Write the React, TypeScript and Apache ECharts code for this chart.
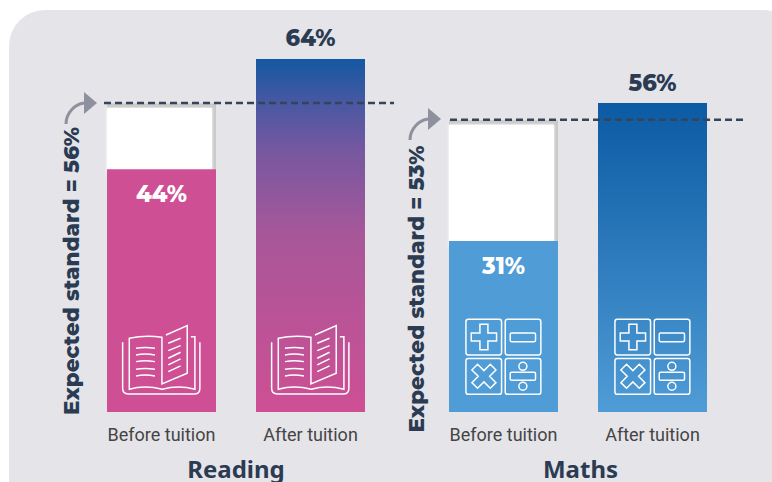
import React, { useEffect, useRef } from "react";
import * as echarts from "echarts";

const categories = ["Before tuition", "After tuition"];
const readingValues = [44, 64];
const mathsValues = [31, 56];
const readingExpected = 56;
const mathsExpected = 53;
const subjects = ["Reading", "Maths"];
const axisMax = 70;

const DARK = "#2b3b52";
const PINK = "#ce4f94";
const BLUE = "#4f9cd6";
const DEEP = "#0b5aa3";
const GREY = "#8f909e";
const BAR_W = 109;
const HEAD = "Montserrat, Inter, 'Noto Sans', sans-serif";

const rr = (x: number, y: number, w: number, h: number, r: number) =>
  `M${x + r},${y}H${x + w - r}A${r},${r} 0 0 1 ${x + w},${y + r}V${y + h - r}A${r},${r} 0 0 1 ${x + w - r},${y + h}H${x + r}A${r},${r} 0 0 1 ${x},${y + h - r}V${y + r}A${r},${r} 0 0 1 ${x + r},${y}Z`;
const crossPath = (cx: number, cy: number, a: number, l: number, deg: number) => {
  const pts = [[-a, -l], [a, -l], [a, -a], [l, -a], [l, a], [a, a], [a, l], [-a, l], [-a, a], [-l, a], [-l, -a], [-a, -a]];
  const t = (deg * Math.PI) / 180;
  return pts
    .map(([x, y], i) => `${i ? "L" : "M"}${(cx + x * Math.cos(t) - y * Math.sin(t)).toFixed(1)},${(cy + x * Math.sin(t) + y * Math.cos(t)).toFixed(1)}`)
    .join("") + "Z";
};
const circlePath = (cx: number, cy: number, r: number) =>
  `M${cx - r},${cy}A${r},${r} 0 1 1 ${cx + r},${cy}A${r},${r} 0 1 1 ${cx - r},${cy}Z`;

const bookPath = [
  "M98,97V235Q98,252 115,252H315Q330,252 330,235V97",
  "M303,80H315V238Q265,225 217,238Q165,225 118,238V85Q165,75 216,82V222L292,190V47L228,75",
  "M138,115Q165,110 195,115M138,135Q165,130 195,135M138,155Q165,150 195,155M138,178Q165,173 195,178M138,198Q165,193 195,198",
  "M235,100L272,85M235,122L272,107M235,145L272,127M235,165L272,147M235,185L272,168",
].join("");
const calcPath = [
  rr(198, 28, 107, 107, 7),
  rr(316, 28, 107, 107, 7),
  rr(198, 146, 107, 107, 7),
  rr(316, 146, 107, 107, 7),
  crossPath(252, 81, 12, 38, 0),
  rr(331, 69, 76, 26, 4),
  crossPath(252, 199, 12, 39, 45),
  rr(331, 187, 76, 24, 4),
  circlePath(369, 169, 12),
  circlePath(369, 229, 12),
].join("");

echarts.graphic.registerShape("bookIcon", echarts.graphic.extendPath(bookPath, {}));
echarts.graphic.registerShape("calcIcon", echarts.graphic.extendPath(calcPath, {}));

const gradient = (stops: [number, string][]) =>
  new echarts.graphic.LinearGradient(0, 0, 0, 1, stops.map(([offset, color]) => ({ offset, color })));

function subjectSeries(idx: number, values: number[], expected: number, before: string, after: any, lineX: [number, number]) {
  return [
    {
      type: "custom",
      xAxisIndex: idx,
      yAxisIndex: idx,
      z: 1,
      silent: true,
      data: [[0, expected, values[0]]],
      renderItem: (_p: any, api: any) => {
        const top = api.coord([api.value(0), api.value(1)]);
        const low = api.coord([api.value(0), api.value(2)]);
        const x = top[0] - BAR_W / 2;
        return {
          type: "group",
          children: [
            { type: "rect", shape: { x, y: top[1] + 0.5, width: BAR_W, height: low[1] - top[1] }, style: { fill: "#c9c9c7" } },
            {
              type: "rect",
              shape: { x, y: top[1] + 5, width: BAR_W - 4, height: low[1] - top[1] },
              style: { fill: "#ffffff", shadowBlur: 3, shadowColor: "#ffffff" },
            },
          ],
        };
      },
    },
    {
      type: "bar",
      xAxisIndex: idx,
      yAxisIndex: idx,
      z: 2,
      barWidth: BAR_W,
      silent: true,
      data: [
        {
          value: values[0],
          itemStyle: { color: before },
          label: { show: true, position: "insideTop", distance: 13, formatter: "{c}%", color: "#fff", fontFamily: HEAD, fontWeight: 800, fontSize: 22.5 },
        },
        {
          value: values[1],
          itemStyle: { color: after },
          label: { show: true, position: "top", distance: 9, formatter: "{c}%", color: DARK, fontFamily: HEAD, fontWeight: 800, fontSize: 22.5 },
        },
      ],
    },
    {
      type: "custom",
      xAxisIndex: idx,
      yAxisIndex: idx,
      z: 5,
      silent: true,
      data: [[0, expected]],
      renderItem: (_p: any, api: any) => {
        const y = api.coord([api.value(0), api.value(1)])[1];
        return {
          type: "line",
          shape: { x1: lineX[0], y1: y, x2: lineX[1], y2: y },
          style: { stroke: "#34445a", lineWidth: 2.5, lineDash: [7, 4] },
        };
      },
    },
  ];
}

const grids = [
  { left: 87, width: 298, top: 25.9, height: 386.1, outerBoundsMode: "none" },
  { left: 429, width: 298, top: 25.9, height: 386.1, outerBoundsMode: "none" },
];

function xAxis(gridIndex: number, name: string, padding: number[]) {
  return {
    type: "category",
    gridIndex,
    data: categories,
    name,
    nameLocation: "middle",
    nameGap: 44,
    nameTextStyle: { color: DARK, fontFamily: "'Noto Sans', sans-serif", fontWeight: 700, fontSize: 24, padding },
    axisLine: { show: false },
    axisTick: { show: false },
    axisLabel: { margin: 13, color: "#444444", fontSize: 18, fontFamily: "Roboto, sans-serif", interval: 0 },
  };
}
function yAxis(gridIndex: number) {
  return { type: "value", gridIndex, min: 0, max: axisMax, show: false };
}

function arrow(x: number, y: number) {
  return [
    {
      type: "bezierCurve",
      z: 6,
      shape: { x1: x - 18, y1: y + 21, cpx1: x - 18, cpy1: y + 10, cpx2: x - 9, cpy2: y + 1, x2: x, y2: y },
      style: { stroke: GREY, lineWidth: 3, fill: "none" },
    },
    {
      type: "polygon",
      z: 6,
      shape: { points: [[x, y - 11], [x + 13, y], [x, y + 11]] },
      style: { fill: GREY },
    },
  ];
}

function rotated(text: string, x: number, y: number) {
  return {
    type: "text",
    z: 6,
    x,
    y,
    rotation: Math.PI / 2,
    style: {
      text,
      fill: DARK,
      font: `800 21.5px ${HEAD}`,
      align: "center",
      verticalAlign: "middle",
    },
  };
}

function icon(type: string, x: number, y: number) {
  return {
    type,
    z: 7,
    x,
    y,
    scaleX: 1 / 3,
    scaleY: 1 / 3,
    style: { fill: "none", stroke: "#ffffff", lineWidth: 4.5 },
  };
}

export default function App() {
  const ref = useRef<HTMLDivElement>(null);
  useEffect(() => {
    const chart = echarts.init(ref.current!, undefined, { renderer: "svg" });
    chart.setOption({
      animation: false,
      backgroundColor: "#ffffff",
      grid: grids,
      xAxis: [xAxis(0, subjects[0], [0, 0, 0, 0]), xAxis(1, subjects[1], [0, 0, 0, 5])],
      yAxis: [yAxis(0), yAxis(1)],
      graphic: [
        { type: "rect", z: -1, shape: { x: 9, y: 10, width: 790, height: 520, r: 36 }, style: { fill: "#e5e4e9" } },
        ...arrow(84, 103),
        ...arrow(428, 119),
        rotated(`Expected standard = ${readingExpected}%`, 71, 271),
        rotated(`Expected standard = ${mathsExpected}%`, 416, 289),
        icon("bookIcon", 90, 310),
        icon("bookIcon", 239, 310),
        icon("calcIcon", 400, 310),
        icon("calcIcon", 549, 310),
      ],
      series: [
        ...subjectSeries(0, readingValues, readingExpected, PINK, gradient([[0, "#1458a2"], [0.13, "#4a58a2"], [0.26, "#7658a0"], [0.5, "#a85799"], [1, PINK]]), [104, 394]),
        ...subjectSeries(1, mathsValues, mathsExpected, BLUE, gradient([[0, DEEP], [1, BLUE]]), [450, 743]),
      ],
    });
    return () => chart.dispose();
  }, []);
  return <div ref={ref} style={{ position: "fixed", left: 0, top: 0, width: 772, height: 482 }} />;
}
